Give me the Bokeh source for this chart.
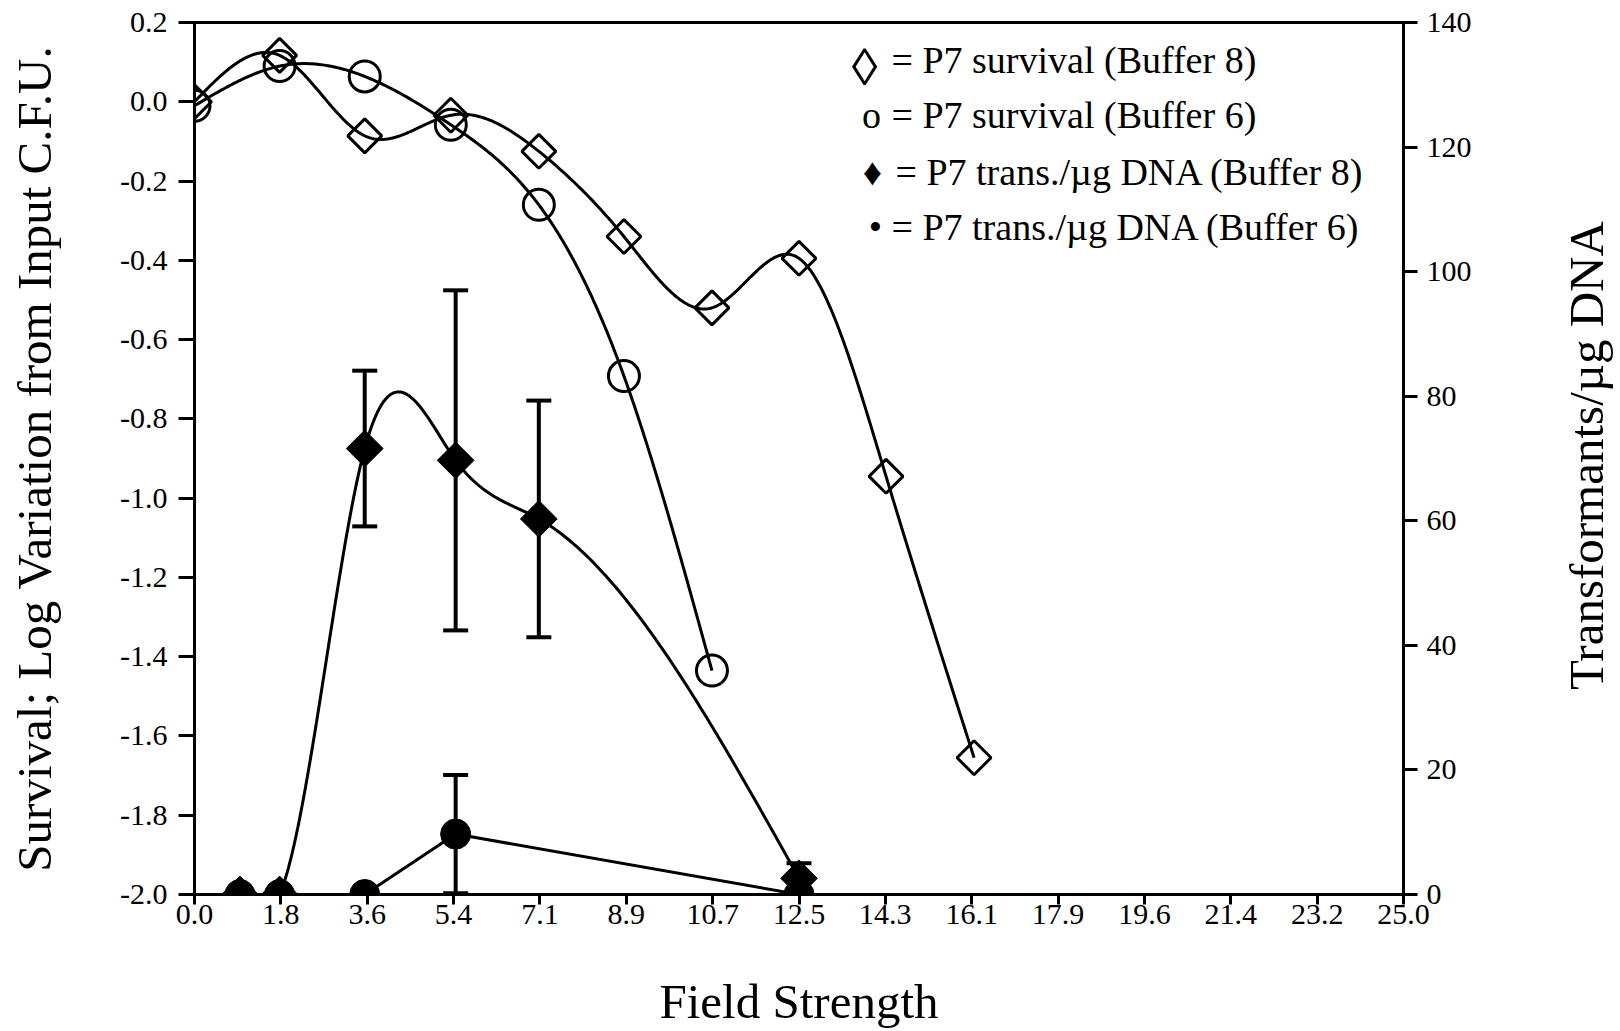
import math
import numpy as np
from bokeh.plotting import figure
from bokeh.layouts import row
from bokeh.models import Range1d, LinearAxis, FixedTicker, PrintfTickFormatter, Label
from bokeh.embed import file_html
from bokeh.resources import INLINE

# ---------------- data ----------------
x_tick_labels = ["0.0", "1.8", "3.6", "5.4", "7.1", "8.9", "10.7", "12.5",
                 "14.3", "16.1", "17.9", "19.6", "21.4", "23.2", "25.0"]
left_ticks = [-2.0, -1.8, -1.6, -1.4, -1.2, -1.0, -0.8, -0.6, -0.4, -0.2, 0.0, 0.2]
right_ticks = [0, 20, 40, 60, 80, 100, 120, 140]

# P7 survival (Buffer 8) - open diamonds, left axis
surv_b8_x = [0.0, 1.76, 3.52, 5.3, 7.12, 8.88, 10.7, 12.5, 14.3, 16.12]
surv_b8_y = [0.0, 0.117, -0.086, -0.034, -0.125, -0.34, -0.52, -0.395, -0.945, -1.655]

# P7 survival (Buffer 6) - open circles, left axis
surv_b6_x = [0.0, 1.76, 3.52, 5.3, 7.12, 8.88, 10.7]
surv_b6_y = [-0.01, 0.09, 0.064, -0.058, -0.26, -0.692, -1.435]

# P7 trans./ug DNA (Buffer 8) - filled diamonds, right axis
trans_b8_x = [0.94, 1.76, 3.52, 5.4, 7.12, 12.5]
trans_b8_y = [0.0, 0.0, 71.6, 69.7, 60.3, 2.6]
trans_b8_err = [0.0, 0.0, 12.5, 27.3, 19.0, 2.4]

# P7 trans./ug DNA (Buffer 6) - filled circles, right axis
trans_b6_x = [0.94, 1.76, 3.52, 5.4, 12.5]
trans_b6_y = [0.0, 0.0, 0.0, 9.7, 0.0]
trans_b6_err = [0.0, 0.0, 0.0, 9.5, 0.0]

legend_symbols = ["\u25CA", "o", "\u2666", "\u2022"]
legend_texts = ["= P7 survival (Buffer 8)", "= P7 survival (Buffer 6)",
                "= P7 trans./\u00B5g DNA (Buffer 8)", "= P7 trans./\u00B5g DNA (Buffer 6)"]
right_title = "Transformants/\u00B5g DNA"

FONT = "Liberation Serif"


def natural_spline(xs, ys, num=300):
    x = np.asarray(xs, float)
    y = np.asarray(ys, float)
    n = len(x)
    h = np.diff(x)
    A = np.zeros((n, n))
    b = np.zeros(n)
    A[0, 0] = 1.0
    A[-1, -1] = 1.0
    for i in range(1, n - 1):
        A[i, i - 1] = h[i - 1]
        A[i, i] = 2 * (h[i - 1] + h[i])
        A[i, i + 1] = h[i]
        b[i] = 6 * ((y[i + 1] - y[i]) / h[i] - (y[i] - y[i - 1]) / h[i - 1])
    M = np.linalg.solve(A, b)
    xx = np.linspace(x[0], x[-1], num)
    idx = np.clip(np.searchsorted(x, xx) - 1, 0, n - 2)
    x0 = x[idx]
    x1 = x[idx + 1]
    hh = x1 - x0
    a = (x1 - xx) / hh
    bb = (xx - x0) / hh
    yy = a * y[idx] + bb * y[idx + 1] + ((a ** 3 - a) * M[idx] + (bb ** 3 - bb) * M[idx + 1]) * hh ** 2 / 6
    return xx, yy


p = figure(width=1520, height=1031, output_backend="svg", toolbar_location=None,
           x_range=Range1d(0, 25), y_range=Range1d(-2.0, 0.2),
           min_border_left=194, min_border_right=117, min_border_top=22, min_border_bottom=137)
p.extra_y_ranges = {"trans": Range1d(0, 140)}
p.xgrid.visible = False
p.ygrid.visible = False
p.outline_line_color = "black"
p.outline_line_width = 3
p.background_fill_color = "white"
p.border_fill_color = "white"

# x axis
xt = [i * 25 / 14 for i in range(15)]
xa = p.xaxis[0]
xa.ticker = FixedTicker(ticks=xt, minor_ticks=[])
xa.major_label_overrides = {t: lab for t, lab in zip(xt, x_tick_labels)}
xa.axis_label = "Field Strength"
xa.axis_label_standoff = 47
xa.major_label_standoff = 0
xa.major_tick_out = 10

# left axis
ya = p.yaxis[0]
ya.ticker = FixedTicker(ticks=left_ticks, minor_ticks=[])
ya.formatter = PrintfTickFormatter(format="%.1f")
ya.axis_label = "Survival; Log Variation from Input C.F.U."
ya.axis_label_standoff = 55
ya.major_label_standoff = 11
ya.major_tick_out = 16

# right axis
ra = LinearAxis(y_range_name="trans", ticker=FixedTicker(ticks=right_ticks, minor_ticks=[]))
ra.major_label_standoff = 9
ra.major_tick_out = 14
p.add_layout(ra, "right")

for ax in [xa, ya, ra]:
    ax.axis_line_width = 3
    ax.axis_line_color = "black"
    ax.major_tick_line_width = 3
    ax.major_tick_line_color = "black"
    ax.major_tick_in = 0
    ax.minor_tick_in = 0
    ax.minor_tick_out = 0
    ax.major_label_text_font = FONT
    ax.major_label_text_font_size = "30px"
    ax.major_label_text_color = "black"
    ax.axis_label_text_font = FONT
    ax.axis_label_text_font_size = "49px"
    ax.axis_label_text_font_style = "normal"
    ax.axis_label_text_color = "black"

# curves
sx, sy = natural_spline(surv_b8_x, surv_b8_y)
p.line(sx, sy, line_color="black", line_width=3)
sx, sy = natural_spline(surv_b6_x, surv_b6_y)
p.line(sx, sy, line_color="black", line_width=3)
sx, sy = natural_spline(trans_b8_x, trans_b8_y)
p.line(sx, sy, line_color="black", line_width=3, y_range_name="trans")
p.line(trans_b6_x, trans_b6_y, line_color="black", line_width=3, y_range_name="trans")

# error bars
for xs, ys, es in [(trans_b8_x, trans_b8_y, trans_b8_err), (trans_b6_x, trans_b6_y, trans_b6_err)]:
    ex = [x for x, e in zip(xs, es) if e > 0]
    up = [y + e for y, e in zip(ys, es) if e > 0]
    lo = [y - e for y, e in zip(ys, es) if e > 0]
    p.segment(x0=ex, y0=lo, x1=ex, y1=up, line_color="black", line_width=4, y_range_name="trans")
    p.scatter(ex + ex, up + lo, marker="dash", size=25, line_color="black", line_width=4,
              y_range_name="trans")

# markers
p.scatter(surv_b8_x, surv_b8_y, marker="square", angle=math.pi / 4, size=24,
          fill_color=None, line_color="black", line_width=3)
p.scatter(surv_b6_x, surv_b6_y, marker="circle", size=31,
          fill_color=None, line_color="black", line_width=3)
p.scatter(trans_b8_x, trans_b8_y, marker="square", angle=math.pi / 4, size=26,
          fill_color="black", line_color="black", line_width=1, y_range_name="trans")
p.scatter(trans_b6_x, trans_b6_y, marker="circle", size=30,
          fill_color="black", line_color="black", line_width=1, y_range_name="trans")

# legend (text)
sym_x = [670, 677, 678, 681]
txt_x = [697, 697, 701, 697]
base_y = [835, 780, 723, 668]
sym_dy = [-8, 0, 0, 0]
sym_sizes = ["52px", "38px", "38px", "38px"]
for i in range(4):
    p.add_layout(Label(x=sym_x[i], y=base_y[i] + sym_dy[i], x_units="screen", y_units="screen",
                       text=legend_symbols[i], text_align="center", text_baseline="alphabetic",
                       text_font=FONT, text_font_size=sym_sizes[i], text_color="black"))
    p.add_layout(Label(x=txt_x[i], y=base_y[i], x_units="screen", y_units="screen",
                       text=legend_texts[i], text_align="left", text_baseline="alphabetic",
                       text_font=FONT, text_font_size="38px", text_color="black"))

# right-hand axis title, read bottom-to-top, in a narrow strip beside the plot
p2 = figure(width=100, height=1031, output_backend="svg", toolbar_location=None,
            x_range=Range1d(0, 100), y_range=Range1d(0, 1031),
            x_axis_type=None, y_axis_type=None,
            min_border_left=0, min_border_right=0, min_border_top=0, min_border_bottom=0)
p2.grid.visible = False
p2.outline_line_color = None
p2.background_fill_color = "white"
p2.border_fill_color = "white"
p2.add_layout(Label(x=66, y=439, x_units="screen", y_units="screen",
                    text=right_title, angle=math.pi / 2,
                    text_align="center", text_baseline="alphabetic",
                    text_font=FONT, text_font_size="49px", text_color="black"))

layout = row(p, p2, spacing=0)
open("out.html", "w").write(file_html(layout, INLINE))
